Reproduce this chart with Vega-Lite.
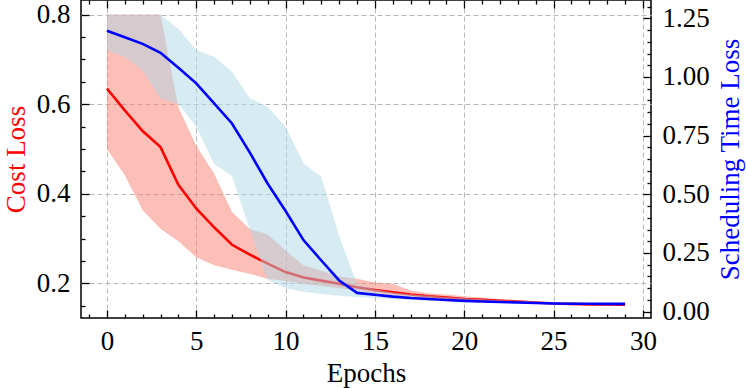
{
  "$schema": "https://vega.github.io/schema/vega-lite/v6.json",
  "width": 570,
  "height": 318,
  "autosize": {"type": "none"},
  "padding": {"left": 81, "top": 0, "right": 95, "bottom": 70},
  "background": "white",
  "data": {"values": [
    {"epoch": 0, "cost": 0.635, "cost_lo": 0.500, "cost_hi": 0.800, "sched": 1.197, "sched_lo": 1.115, "sched_hi": 1.265},
    {"epoch": 1, "cost": 0.586, "cost_lo": 0.441, "cost_hi": 0.800, "sched": 1.169, "sched_lo": 1.086, "sched_hi": 1.265},
    {"epoch": 2, "cost": 0.540, "cost_lo": 0.363, "cost_hi": 0.800, "sched": 1.141, "sched_lo": 1.029, "sched_hi": 1.265},
    {"epoch": 3, "cost": 0.504, "cost_lo": 0.322, "cost_hi": 0.800, "sched": 1.103, "sched_lo": 0.909, "sched_hi": 1.265},
    {"epoch": 4, "cost": 0.420, "cost_lo": 0.294, "cost_hi": 0.593, "sched": 1.039, "sched_lo": 0.885, "sched_hi": 1.206},
    {"epoch": 5, "cost": 0.367, "cost_lo": 0.258, "cost_hi": 0.507, "sched": 0.973, "sched_lo": 0.789, "sched_hi": 1.115},
    {"epoch": 6, "cost": 0.325, "cost_lo": 0.240, "cost_hi": 0.445, "sched": 0.888, "sched_lo": 0.629, "sched_hi": 1.086},
    {"epoch": 7, "cost": 0.286, "cost_lo": 0.230, "cost_hi": 0.359, "sched": 0.802, "sched_lo": 0.578, "sched_hi": 1.022},
    {"epoch": 8, "cost": 0.264, "cost_lo": 0.221, "cost_hi": 0.321, "sched": 0.678, "sched_lo": 0.348, "sched_hi": 0.909},
    {"epoch": 9, "cost": 0.244, "cost_lo": 0.210, "cost_hi": 0.309, "sched": 0.545, "sched_lo": 0.135, "sched_hi": 0.873},
    {"epoch": 10, "cost": 0.225, "cost_lo": 0.205, "cost_hi": 0.273, "sched": 0.429, "sched_lo": 0.100, "sched_hi": 0.788},
    {"epoch": 11, "cost": 0.213, "cost_lo": 0.199, "cost_hi": 0.240, "sched": 0.305, "sched_lo": 0.085, "sched_hi": 0.632},
    {"epoch": 12, "cost": 0.206, "cost_lo": 0.194, "cost_hi": 0.228, "sched": 0.218, "sched_lo": 0.075, "sched_hi": 0.575},
    {"epoch": 13, "cost": 0.199, "cost_lo": 0.189, "cost_hi": 0.215, "sched": 0.133, "sched_lo": 0.068, "sched_hi": 0.322},
    {"epoch": 14, "cost": 0.191, "cost_lo": 0.184, "cost_hi": 0.210, "sched": 0.080, "sched_lo": 0.062, "sched_hi": 0.118},
    {"epoch": 15, "cost": 0.185, "cost_lo": 0.178, "cost_hi": 0.202, "sched": 0.072, "sched_lo": 0.058, "sched_hi": 0.095},
    {"epoch": 16, "cost": 0.180, "cost_lo": 0.173, "cost_hi": 0.199, "sched": 0.064, "sched_lo": 0.054, "sched_hi": 0.082},
    {"epoch": 17, "cost": 0.175, "cost_lo": 0.169, "cost_hi": 0.184, "sched": 0.058, "sched_lo": 0.050, "sched_hi": 0.074},
    {"epoch": 18, "cost": 0.171, "cost_lo": 0.166, "cost_hi": 0.178, "sched": 0.054, "sched_lo": 0.047, "sched_hi": 0.068},
    {"epoch": 19, "cost": 0.168, "cost_lo": 0.163, "cost_hi": 0.175, "sched": 0.050, "sched_lo": 0.044, "sched_hi": 0.062},
    {"epoch": 20, "cost": 0.165, "cost_lo": 0.160, "cost_hi": 0.171, "sched": 0.046, "sched_lo": 0.041, "sched_hi": 0.057},
    {"epoch": 21, "cost": 0.163, "cost_lo": 0.158, "cost_hi": 0.168, "sched": 0.043, "sched_lo": 0.039, "sched_hi": 0.053},
    {"epoch": 22, "cost": 0.161, "cost_lo": 0.157, "cost_hi": 0.165, "sched": 0.041, "sched_lo": 0.037, "sched_hi": 0.049},
    {"epoch": 23, "cost": 0.159, "cost_lo": 0.156, "cost_hi": 0.162, "sched": 0.039, "sched_lo": 0.035, "sched_hi": 0.046},
    {"epoch": 24, "cost": 0.157, "cost_lo": 0.155, "cost_hi": 0.159, "sched": 0.037, "sched_lo": 0.034, "sched_hi": 0.043},
    {"epoch": 25, "cost": 0.155, "cost_lo": 0.153, "cost_hi": 0.157, "sched": 0.035, "sched_lo": 0.032, "sched_hi": 0.040},
    {"epoch": 26, "cost": 0.154, "cost_lo": 0.152, "cost_hi": 0.155, "sched": 0.034, "sched_lo": 0.031, "sched_hi": 0.038},
    {"epoch": 27, "cost": 0.153, "cost_lo": 0.152, "cost_hi": 0.154, "sched": 0.034, "sched_lo": 0.031, "sched_hi": 0.037},
    {"epoch": 28, "cost": 0.153, "cost_lo": 0.151, "cost_hi": 0.154, "sched": 0.033, "sched_lo": 0.030, "sched_hi": 0.036},
    {"epoch": 29, "cost": 0.152, "cost_lo": 0.151, "cost_hi": 0.153, "sched": 0.033, "sched_lo": 0.030, "sched_hi": 0.035}
  ]},
  "config": {
    "view": {"stroke": "black", "strokeWidth": 1.5},
    "font": "Liberation Serif",
    "axis": {
      "domain": false,
      "labelFont": "Liberation Serif",
      "labelFontSize": 27,
      "labelColor": "black",
      "titleFont": "Liberation Serif",
      "titleFontSize": 27,
      "titleFontWeight": "normal",
      "titleColor": "black",
      "tickColor": "black",
      "tickWidth": 1.3,
      "gridColor": "#b8b8b8",
      "gridDash": [5, 3],
      "gridWidth": 1,
      "labelOverlap": false,
      "labelFlush": false,
      "labelBound": false
    }
  },
  "resolve": {"scale": {"y": "independent"}, "axis": {"x": "independent", "y": "independent"}},
  "layer": [
    {
      "mark": {"type": "line", "opacity": 0},
      "encoding": {
        "x": {"field": "epoch", "type": "quantitative",
          "scale": {"domain": [-1.45, 30.45], "nice": false, "zero": false},
          "axis": {"orient": "bottom", "values": [0,5,10,15,20,25,30], "grid": true, "ticks": false, "labels": false, "title": null, "offset": 0}},
        "y": {"field": "cost", "type": "quantitative",
          "scale": {"domain": [0.1225, 0.8325], "nice": false, "zero": false},
          "axis": {"orient": "left", "values": [0.2,0.4,0.6,0.8], "grid": true, "ticks": false, "labels": false, "title": null, "offset": 0}}
      }
    },
    {
      "mark": {"type": "area", "color": "salmon", "opacity": 0.5},
      "encoding": {
        "x": {"field": "epoch", "type": "quantitative",
          "scale": {"domain": [-1.45, 30.45], "nice": false, "zero": false},
          "axis": {"orient": "bottom", "values": [0,5,10,15,20,25,30], "grid": false,
            "offset": -8, "tickSize": 8, "labelPadding": 10,
            "title": "Epochs", "titlePadding": 6}},
        "y": {"field": "cost_lo", "type": "quantitative",
          "scale": {"domain": [0.1225, 0.8325], "nice": false, "zero": false},
          "axis": {"orient": "left", "values": [0.2,0.4,0.6,0.8], "format": ".1f", "grid": false,
            "offset": -8, "tickSize": 8, "labelPadding": 11,
            "title": "Cost Loss", "titleColor": "#ff0000", "titlePadding": 6}},
        "y2": {"field": "cost_hi"}
      }
    },
    {
      "mark": {"type": "line", "color": "#ff0000", "strokeWidth": 2.6},
      "encoding": {
        "x": {"field": "epoch", "type": "quantitative",
          "scale": {"domain": [-1.45, 30.45], "nice": false, "zero": false},
          "axis": {"orient": "bottom", "values": [-1,1,2,3,4,6,7,8,9,11,12,13,14,16,17,18,19,21,22,23,24,26,27,28,29],
            "grid": false, "labels": false, "title": null, "offset": -4, "tickSize": 4}},
        "y": {"field": "cost", "type": "quantitative",
          "scale": {"domain": [0.1225, 0.8325], "nice": false, "zero": false},
          "axis": {"orient": "left", "values": [0.15,0.25,0.3,0.35,0.45,0.5,0.55,0.65,0.7,0.75],
            "grid": false, "labels": false, "title": null, "offset": -4, "tickSize": 4}}
      }
    },
    {
      "mark": {"type": "area", "color": "lightblue", "opacity": 0.5},
      "encoding": {
        "x": {"field": "epoch", "type": "quantitative",
          "axis": {"orient": "top", "values": [0,5,10,15,20,25,30], "grid": false, "labels": false, "title": null, "offset": -8, "tickSize": 8}},
        "y": {"field": "sched_lo", "type": "quantitative",
          "scale": {"domain": [-0.027, 1.328], "nice": false, "zero": false},
          "axis": {"orient": "right", "values": [0,0.25,0.5,0.75,1,1.25], "format": ".2f", "grid": false,
            "offset": -8, "tickSize": 8, "labelPadding": 11,
            "title": "Scheduling Time Loss", "titleColor": "#0000ff", "titleAngle": 270, "titleBaseline": "top", "titlePadding": 8}},
        "y2": {"field": "sched_hi"}
      }
    },
    {
      "mark": {"type": "line", "color": "#0000ff", "strokeWidth": 2.6},
      "encoding": {
        "x": {"field": "epoch", "type": "quantitative",
          "axis": {"orient": "top", "values": [-1,1,2,3,4,6,7,8,9,11,12,13,14,16,17,18,19,21,22,23,24,26,27,28,29],
            "grid": false, "labels": false, "title": null, "offset": -4, "tickSize": 4}},
        "y": {"field": "sched", "type": "quantitative",
          "scale": {"domain": [-0.027, 1.328], "nice": false, "zero": false},
          "axis": {"orient": "right", "values": [0.05,0.1,0.15,0.2,0.3,0.35,0.4,0.45,0.55,0.6,0.65,0.7,0.8,0.85,0.9,0.95,1.05,1.1,1.15,1.2,1.3],
            "grid": false, "labels": false, "title": null, "offset": -4, "tickSize": 4}}
      }
    }
  ]
}
